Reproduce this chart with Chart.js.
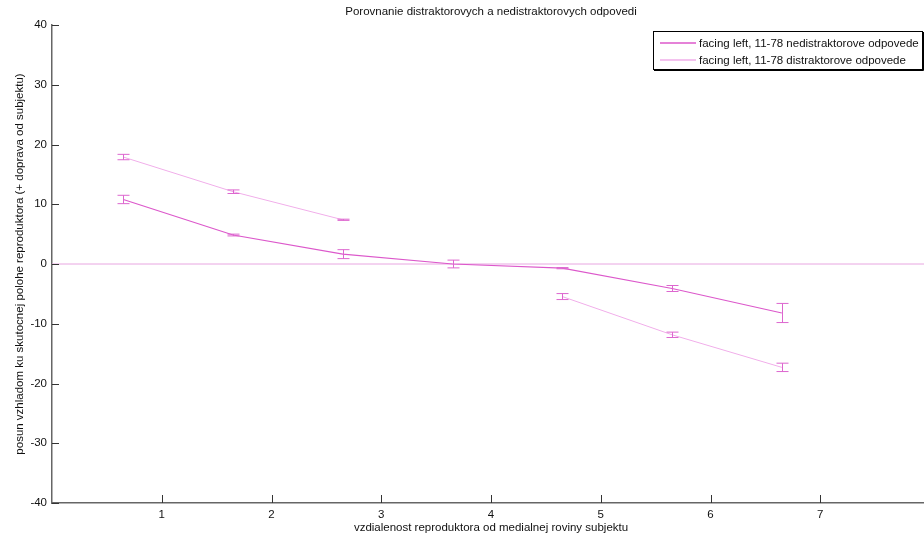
<!DOCTYPE html>
<html>
<head>
<meta charset="utf-8">
<title>Porovnanie distraktorovych a nedistraktorovych odpovedi</title>
<script src="https://cdn.jsdelivr.net/npm/chart.js@4/dist/chart.umd.min.js"></script>
<style>
  html, body { margin: 0; padding: 0; background: #fff; overflow: hidden; width: 924px; height: 537px; }
  canvas { display: block; }
</style>
</head>
<body>
<canvas id="chart" width="940" height="537"></canvas>
<script>
// Speaker distance from the subject's median plane (plotted positions)
const xPositions = [0.65, 1.65, 2.65, 3.65, 4.65, 5.65, 6.65];

// Non-distractor responses: mean shift and error
const nedistraktoroveMeans = [10.8, 4.85, 1.65, 0.0, -0.7, -4.1, -8.2];
const nedistraktoroveErr   = [0.7, 0.15, 0.75, 0.65, 0.1, 0.5, 1.6];

// Distractor responses: mean shift and error (no value at the middle position)
const distraktoroveMeans = [17.9, 12.1, 7.4, null, -5.45, -11.85, -17.3];
const distraktoroveErr   = [0.45, 0.3, 0.1, null, 0.5, 0.45, 0.7];

// Reference line at zero
const zeroLineX = [0, 8];
const zeroLineY = [0, 0];

// Axis ticks
const xTicks = [1, 2, 3, 4, 5, 6, 7];
const yTicks = [-40, -30, -20, -10, 0, 10, 20, 30, 40];

const seriesLabels = [
  'facing left, 11-78 nedistraktorove odpovede',
  'facing left, 11-78 distraktorove odpovede'
];

const FONT = '"Liberation Sans", Arial, Helvetica, sans-serif';
const FONT_SIZE = 11.5;
const COLOR_NED = '#dc58cb';
const COLOR_DIS = '#f1aeea';
const COLOR_ERR = '#dd66cf';
const COLOR_ZERO = '#e8a6e1';

const toPoints = (xs, ys) => xs.map((x, i) => ({ x: x, y: ys[i] }));

// Error bars with caps, drawn through the chart scales
const errorBars = {
  id: 'errorBars',
  afterDatasetsDraw(chart) {
    const { ctx, scales: { x, y } } = chart;
    const sets = [
      [nedistraktoroveMeans, nedistraktoroveErr],
      [distraktoroveMeans, distraktoroveErr]
    ];
    ctx.save();
    ctx.strokeStyle = COLOR_ERR;
    ctx.lineWidth = 1;
    sets.forEach(([means, errs]) => {
      means.forEach((m, i) => {
        if (m === null || errs[i] === null) return;
        const px = Math.round(x.getPixelForValue(xPositions[i])) + 0.5;
        const top = y.getPixelForValue(m + errs[i]);
        const bot = y.getPixelForValue(m - errs[i]);
        ctx.beginPath();
        ctx.moveTo(px, top); ctx.lineTo(px, bot);
        ctx.moveTo(px - 6, top); ctx.lineTo(px + 6, top);
        ctx.moveTo(px - 6, bot); ctx.lineTo(px + 6, bot);
        ctx.stroke();
      });
    });
    ctx.restore();
  }
};

// Inward tick marks on the left and bottom axes
const inwardTicks = {
  id: 'inwardTicks',
  afterDraw(chart) {
    const { ctx, chartArea: a, scales: { x, y } } = chart;
    ctx.save();
    ctx.strokeStyle = '#333';
    ctx.lineWidth = 1;
    ctx.beginPath();
    yTicks.forEach(v => {
      const py = Math.round(y.getPixelForValue(v)) + 0.5;
      ctx.moveTo(a.left, py); ctx.lineTo(a.left + 7, py);
    });
    xTicks.forEach(v => {
      const px = Math.round(x.getPixelForValue(v)) + 0.5;
      ctx.moveTo(px, a.bottom); ctx.lineTo(px, a.bottom - 8);
    });
    ctx.stroke();
    ctx.restore();
  }
};

// Boxed legend in the upper right corner of the plot
const boxLegend = {
  id: 'boxLegend',
  afterDraw(chart) {
    const { ctx, chartArea: a } = chart;
    const right = a.right - 8, left = right - 269, top = a.top + 6, h = 38;
    ctx.save();
    ctx.fillStyle = '#fff';
    ctx.fillRect(left, top, right - left, h);
    ctx.strokeStyle = '#000';
    ctx.lineWidth = 1;
    ctx.strokeRect(left + 0.5, top + 0.5, right - left, h);
    ctx.beginPath();
    ctx.moveTo(right + 1.5, top + 1); ctx.lineTo(right + 1.5, top + h + 1.5);
    ctx.lineTo(left + 1, top + h + 1.5);
    ctx.stroke();
    const colors = [COLOR_NED, COLOR_DIS];
    ctx.font = FONT_SIZE + 'px ' + FONT;
    ctx.textBaseline = 'middle';
    ctx.textAlign = 'left';
    seriesLabels.forEach((label, i) => {
      const ry = Math.round(top + 12 + i * 16.6);
      ctx.strokeStyle = colors[i];
      ctx.lineWidth = 1.4;
      ctx.beginPath();
      ctx.moveTo(left + 7, ry);
      ctx.lineTo(left + 43, ry);
      ctx.stroke();
      ctx.fillStyle = '#111';
      ctx.fillText(label, left + 46, ry + 0.5);
    });
    ctx.restore();
  }
};

new Chart(document.getElementById('chart'), {
  type: 'line',
  data: {
    datasets: [
      {
        label: seriesLabels[0],
        data: toPoints(xPositions, nedistraktoroveMeans),
        borderColor: COLOR_NED,
        borderWidth: 1.2,
        pointRadius: 0,
        tension: 0,
        spanGaps: false,
        order: 1
      },
      {
        label: seriesLabels[1],
        data: toPoints(xPositions, distraktoroveMeans),
        borderColor: COLOR_DIS,
        borderWidth: 1,
        pointRadius: 0,
        tension: 0,
        spanGaps: false,
        order: 2
      },
      {
        label: 'zero',
        data: toPoints(zeroLineX, zeroLineY),
        borderColor: COLOR_ZERO,
        borderWidth: 1,
        pointRadius: 0,
        order: 3
      }
    ]
  },
  options: {
    responsive: false,
    animation: false,
    events: [],
    layout: { padding: { left: 0, right: 10, top: 0, bottom: 0 } },
    plugins: {
      legend: { display: false },
      tooltip: { enabled: false },
      title: {
        display: true,
        fullSize: false,
        text: 'Porovnanie distraktorovych a nedistraktorovych odpovedi',
        color: '#111',
        font: { family: FONT, size: FONT_SIZE, weight: 'normal' },
        padding: { top: 5, bottom: 6.2 }
      }
    },
    scales: {
      x: {
        type: 'linear',
        min: 0,
        max: 8,
        afterFit: s => { s.height = 34; },
        afterBuildTicks: s => { s.ticks = [0].concat(xTicks, [8]).map(v => ({ value: v })); },
        grid: { display: false, drawTicks: false },
        border: { display: true, color: '#666', width: 1.5 },
        ticks: {
          padding: 5,
          color: '#111',
          font: { family: FONT, size: FONT_SIZE },
          maxRotation: 0,
          autoSkip: false,
          callback: v => (xTicks.includes(v) ? String(v) : '')
        },
        title: {
          display: true,
          text: 'vzdialenost reproduktora od medialnej roviny subjektu',
          color: '#111',
          font: { family: FONT, size: FONT_SIZE },
          padding: { top: 0, bottom: 1.8 }
        }
      },
      y: {
        type: 'linear',
        min: -40,
        max: 40,
        afterFit: s => { s.width = 52; },
        afterBuildTicks: s => { s.ticks = yTicks.map(v => ({ value: v })); },
        grid: { display: false, drawTicks: false },
        border: { display: true, color: '#666', width: 1.5 },
        ticks: {
          padding: 5,
          color: '#111',
          font: { family: FONT, size: FONT_SIZE },
          autoSkip: false
        },
        title: {
          display: true,
          text: 'posun vzhladom ku skutocnej polohe reproduktora (+ doprava od subjektu)',
          color: '#111',
          font: { family: FONT, size: FONT_SIZE },
          padding: { top: 12.6, bottom: 0 }
        }
      }
    }
  },
  plugins: [errorBars, inwardTicks, boxLegend]
});
</script>
</body>
</html>
